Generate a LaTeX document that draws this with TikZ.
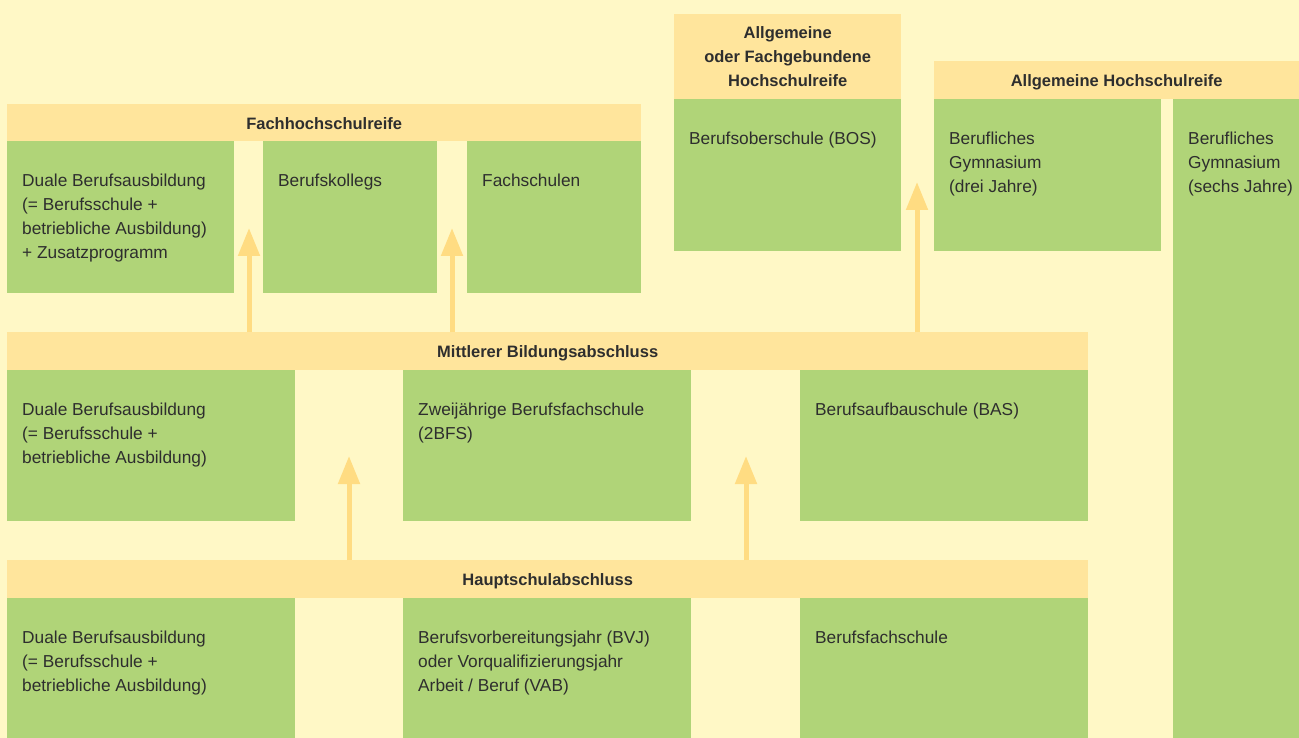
\documentclass[tikz,border=0pt]{standalone}
\usepackage{fontspec}
\setmainfont{Liberation Sans}
\usetikzlibrary{arrows.meta}
\definecolor{bgc}{HTML}{FFF8C6}
\definecolor{hdrc}{HTML}{FFE59C}
\definecolor{grc}{HTML}{B0D478}
\definecolor{arc}{HTML}{FFDC82}
\definecolor{txc}{HTML}{2E2E2E}
\newcommand{\toprule}{\rule{0pt}{16pt}}
\begin{document}
\begin{tikzpicture}[x=1pt,y=-1pt,
  hdr/.style={fill=hdrc, draw=none, inner sep=0pt, anchor=north west, align=center,
    text=txc, font=\fontsize{16.5pt}{24pt}\selectfont\bfseries},
  hdrone/.style={hdr, text height=13.5pt, text depth=0pt},
  gbox/.style={fill=grc, draw=none, inner sep=0pt, anchor=north west},
  txt/.style={anchor=north west, inner sep=0pt, align=left, text=txc,
    font=\fontsize{17.3pt}{24pt}\selectfont},
  uparr/.style={draw=arc, line width=5pt, -{Triangle[width=21pt,length=28pt]}}]
\useasboundingbox (0,0) rectangle (1299,738);
\fill[bgc] (0,0) rectangle (1299,738);

% Fachhochschulreife
\node[hdrone, minimum width=634pt, minimum height=37pt] (fh) at (7,104) {Fachhochschulreife};
\node[gbox, minimum width=227pt, minimum height=152pt] (f1) at (7,141) {};
\node[gbox, minimum width=174pt, minimum height=152pt] (f2) at (263,141) {};
\node[gbox, minimum width=174pt, minimum height=152pt] (f3) at (467,141) {};
\node[txt] (f1t) at ([shift={(15,29)}]f1.north west) {\toprule Duale Berufsausbildung\\(= Berufsschule +\\betriebliche Ausbildung)\\+ Zusatzprogramm};
\node[txt] (f2t) at ([shift={(15,29)}]f2.north west) {\toprule Berufskollegs};
\node[txt] (f3t) at ([shift={(15,29)}]f3.north west) {\toprule Fachschulen};

% Allgemeine oder Fachgebundene Hochschulreife
\node[hdr, minimum width=227pt, minimum height=85pt] (ah) at (674,14) {Allgemeine\\oder Fachgebundene\\Hochschulreife};
\node[gbox, minimum width=227pt, minimum height=152pt] (bos) at (674,99) {};
\node[txt] (bost) at ([shift={(15,29)}]bos.north west) {\toprule Berufsoberschule (BOS)};

% Allgemeine Hochschulreife
\node[hdrone, minimum width=365pt, minimum height=38pt] (gh) at (934,61) {Allgemeine Hochschulreife};
\node[gbox, minimum width=227pt, minimum height=152pt] (g1) at (934,99) {};
\node[gbox, minimum width=126pt, minimum height=639pt] (g2) at (1173,99) {};
\node[txt] (g1t) at ([shift={(15,29)}]g1.north west) {\toprule Berufliches\\Gymnasium\\(drei Jahre)};
\node[txt] (g2t) at ([shift={(15,29)}]g2.north west) {\toprule Berufliches\\Gymnasium\\(sechs Jahre)};

% Mittlerer Bildungsabschluss
\node[hdrone, minimum width=1081pt, minimum height=38pt] (mh) at (7,332) {Mittlerer Bildungsabschluss};
\node[gbox, minimum width=288pt, minimum height=151pt] (m1) at (7,370) {};
\node[gbox, minimum width=288pt, minimum height=151pt] (m2) at (403,370) {};
\node[gbox, minimum width=288pt, minimum height=151pt] (m3) at (800,370) {};
\node[txt] (m1t) at ([shift={(15,29)}]m1.north west) {\toprule Duale Berufsausbildung\\(= Berufsschule +\\betriebliche Ausbildung)};
\node[txt] (m2t) at ([shift={(15,29)}]m2.north west) {\toprule Zweijährige Berufsfachschule\\(2BFS)};
\node[txt] (m3t) at ([shift={(15,29)}]m3.north west) {\toprule Berufsaufbauschule (BAS)};

% Hauptschulabschluss
\node[hdrone, minimum width=1081pt, minimum height=38pt] (hh) at (7,560) {Hauptschulabschluss};
\node[gbox, minimum width=288pt, minimum height=140pt] (h1) at (7,598) {};
\node[gbox, minimum width=288pt, minimum height=140pt] (h2) at (403,598) {};
\node[gbox, minimum width=288pt, minimum height=140pt] (h3) at (800,598) {};
\node[txt] (h1t) at ([shift={(15,29)}]h1.north west) {\toprule Duale Berufsausbildung\\(= Berufsschule +\\betriebliche Ausbildung)};
\node[txt] (h2t) at ([shift={(15,29)}]h2.north west) {\toprule Berufsvorbereitungsjahr (BVJ)\\oder Vorqualifizierungsjahr\\Arbeit / Beruf (VAB)};
\node[txt] (h3t) at ([shift={(15,29)}]h3.north west) {\toprule Berufsfachschule};

% arrows
\coordinate (a1) at (249,228);
\coordinate (a2) at (452,228);
\coordinate (a3) at (917,182);
\coordinate (a4) at (349,456);
\coordinate (a5) at (746,456);
\draw[uparr] (a1 |- mh.north) -- (a1);
\draw[uparr] (a2 |- mh.north) -- (a2);
\draw[uparr] (a3 |- mh.north) -- (a3);
\draw[uparr] (a4 |- hh.north) -- (a4);
\draw[uparr] (a5 |- hh.north) -- (a5);
\end{tikzpicture}
\end{document}
